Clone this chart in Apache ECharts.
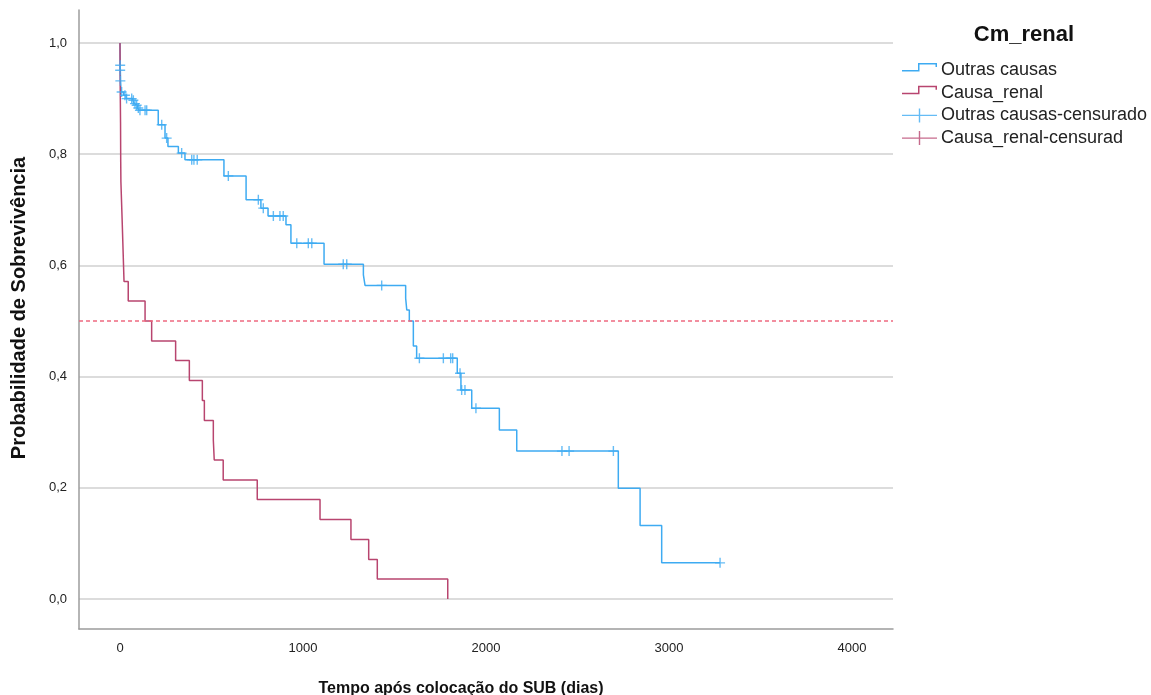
<!DOCTYPE html>
<html><head><meta charset="utf-8">
<script src="https://cdn.jsdelivr.net/npm/echarts@6/dist/echarts.min.js"></script>
<style>html,body{margin:0;padding:0;background:#fff}#c{width:1151px;height:695px}</style>
</head><body><div id="c"></div>
<script>
// ---- data ----
const blueTime = [0, 1, 2, 3, 6, 20, 33, 68, 78, 87, 96, 105, 209, 246, 262, 319, 355, 568, 689, 770, 809, 907, 934, 1115, 1330, 1339, 1561, 1567, 1581, 1603, 1621, 1843, 1863, 1922, 2073, 2168, 2723, 2842, 2960, 3279];
const blueSurv = [1.0, 0.960, 0.951, 0.932, 0.912, 0.906, 0.900, 0.897, 0.891, 0.888, 0.883, 0.879, 0.853, 0.829, 0.814, 0.802, 0.790, 0.761, 0.718, 0.703, 0.689, 0.673, 0.640, 0.602, 0.583, 0.564, 0.541, 0.520, 0.500, 0.455, 0.433, 0.406, 0.376, 0.343, 0.304, 0.266, 0.199, 0.132, 0.065, 0.065];
const blueCensTime = [1, 1, 2, 9, 27, 36, 64, 73, 82, 91, 100, 109, 137, 146, 228, 255, 337, 392, 404, 422, 592, 756, 783, 838, 874, 892, 966, 1029, 1048, 1220, 1239, 1430, 1636, 1767, 1807, 1818, 1858, 1867, 1885, 1945, 2415, 2454, 2696, 3279];
const blueCensSurv = [0.960, 0.951, 0.932, 0.912, 0.906, 0.900, 0.900, 0.897, 0.891, 0.888, 0.883, 0.879, 0.879, 0.879, 0.853, 0.829, 0.802, 0.790, 0.790, 0.790, 0.761, 0.718, 0.703, 0.689, 0.689, 0.689, 0.640, 0.640, 0.640, 0.602, 0.602, 0.564, 0.433, 0.433, 0.433, 0.433, 0.406, 0.376, 0.376, 0.343, 0.266, 0.266, 0.266, 0.065];
const redTime = [0, 1, 2, 3, 4, 5, 12, 22, 45, 137, 173, 304, 379, 450, 461, 510, 515, 564, 750, 1093, 1262, 1359, 1406, 1791];
const redSurv = [1.0, 0.929, 0.893, 0.857, 0.786, 0.750, 0.679, 0.571, 0.536, 0.500, 0.464, 0.429, 0.393, 0.357, 0.321, 0.286, 0.250, 0.214, 0.179, 0.143, 0.107, 0.071, 0.036, 0.0];
const redCensTime = [];
const redCensSurv = [];
const xTicks = [0, 1000, 2000, 3000, 4000];
const yTicks = [0.0, 0.2, 0.4, 0.6, 0.8, 1.0];
const medianLine = 0.5;
const seriesNames = ['Outras causas', 'Causa_renal', 'Outras causas-censurado', 'Causa_renal-censurad'];
const legendTitle = 'Cm_renal';
const xTitle = 'Tempo após colocação do SUB (dias)';
const yTitle = 'Probabilidade de Sobrevivência';

// ---- styling ----
const FONT = '"Liberation Sans", Arial, sans-serif';
const BLUE = '#3eabf2';
const RED = '#b8456f';
const zip = (a, b) => a.map((v, i) => [v, b[i]]);
const plusSym = 'path://M0,4.3H10V5.7H0Z M4.3,0H5.7V10H4.3Z';
const stepIcon = 'path://M0,7H16V0H35V4H33.5V1.5H17.5V8.5H0Z M34.99,13.99H35V14H34.99Z';
const plusIcon = 'path://M0,6.3H35V7.7H0Z M16.8,0H18.2V14H16.8Z';

const chart = echarts.init(document.getElementById('c'), null, {renderer: 'canvas'});
const axisLineStyle = {color: '#9c9c9c', width: 1.5};
chart.setOption({
  animation: false,
  backgroundColor: '#fff',
  grid: [
    {left: 79, right: 258, top: 10, bottom: 66},
    {left: 79, right: 258, top: 43, bottom: 96},
    {left: 120, right: 299, top: 10, bottom: 66}
  ],
  xAxis: [
    {gridIndex: 0, type: 'value', min: -224, max: 4224,
     axisLine: {show: true, onZero: false, lineStyle: axisLineStyle},
     axisTick: {show: false}, axisLabel: {show: false}, splitLine: {show: false}},
    {gridIndex: 1, type: 'value', min: 0, max: 1, show: false},
    {gridIndex: 2, type: 'value', min: xTicks[0], max: xTicks[xTicks.length - 1], interval: xTicks[1] - xTicks[0],
     axisLine: {show: false}, axisTick: {show: false}, splitLine: {show: false},
     axisLabel: {fontSize: 13, color: '#222', margin: 13, fontFamily: FONT, formatter: v => String(Math.round(v))}}
  ],
  yAxis: [
    {gridIndex: 0, type: 'value', min: -0.054, max: 1.0594,
     axisLine: {show: true, onZero: false, lineStyle: axisLineStyle},
     axisTick: {show: false}, axisLabel: {show: false}, splitLine: {show: false}},
    {gridIndex: 1, type: 'value', min: yTicks[0], max: yTicks[yTicks.length - 1], interval: 0.2,
     axisLine: {show: false}, axisTick: {show: false},
     splitLine: {show: true, lineStyle: {color: '#d0d0d0', width: 1.5}},
     axisLabel: {fontSize: 13, color: '#222', margin: 12, fontFamily: FONT,
                 formatter: v => v.toFixed(1).replace('.', ',')}},
    {gridIndex: 2, type: 'value', min: 0, max: 1, show: false}
  ],
  legend: {
    orient: 'vertical', left: 897, top: 56,
    itemWidth: 35, itemHeight: 14, itemGap: 4.7,
    itemStyle: {borderWidth: 0},
    textStyle: {fontSize: 18, lineHeight: 18, color: '#222', fontFamily: FONT, padding: [0, 0, 0, -1]},
    selectedMode: false,
    data: [
      {name: seriesNames[0], icon: stepIcon},
      {name: seriesNames[1], icon: stepIcon},
      {name: seriesNames[2], icon: plusIcon},
      {name: seriesNames[3], icon: plusIcon}
    ]
  },
  graphic: [
    {type: 'text', x: 1024, y: 35, style: {text: legendTitle, font: 'bold 22px ' + FONT, fill: '#111', textAlign: 'center', textVerticalAlign: 'middle'}},
    {type: 'text', x: 461, y: 689, style: {text: xTitle, font: 'bold 16px ' + FONT, fill: '#111', textAlign: 'center', textVerticalAlign: 'middle'}},
    {type: 'text', x: 19, y: 308, rotation: Math.PI / 2, style: {text: yTitle, font: 'bold 20px ' + FONT, fill: '#111', textAlign: 'center', textVerticalAlign: 'middle'}}
  ],
  series: [
    {name: seriesNames[0], type: 'line', xAxisIndex: 0, yAxisIndex: 0, step: 'end',
     data: zip(blueTime, blueSurv), symbol: 'none', showSymbol: false,
     lineStyle: {color: BLUE, width: 1.5}, itemStyle: {color: BLUE}, z: 3,
     markLine: {silent: true, symbol: ['none', 'none'], label: {show: false},
                lineStyle: {color: '#ee6a80', type: [4, 3], width: 1.5},
                data: [{yAxis: medianLine}]}},
    {name: seriesNames[1], type: 'line', xAxisIndex: 0, yAxisIndex: 0, step: 'end',
     data: zip(redTime, redSurv), symbol: 'none', showSymbol: false,
     lineStyle: {color: RED, width: 1.5}, itemStyle: {color: RED}, z: 4},
    {name: seriesNames[2], type: 'scatter', xAxisIndex: 0, yAxisIndex: 0,
     data: zip(blueCensTime, blueCensSurv), symbol: plusSym, symbolSize: 10,
     itemStyle: {color: BLUE}, z: 5},
    {name: seriesNames[3], type: 'scatter', xAxisIndex: 0, yAxisIndex: 0,
     data: zip(redCensTime, redCensSurv), symbol: plusSym, symbolSize: 10,
     itemStyle: {color: RED}, z: 5}
  ]
});
</script>
</body></html>
